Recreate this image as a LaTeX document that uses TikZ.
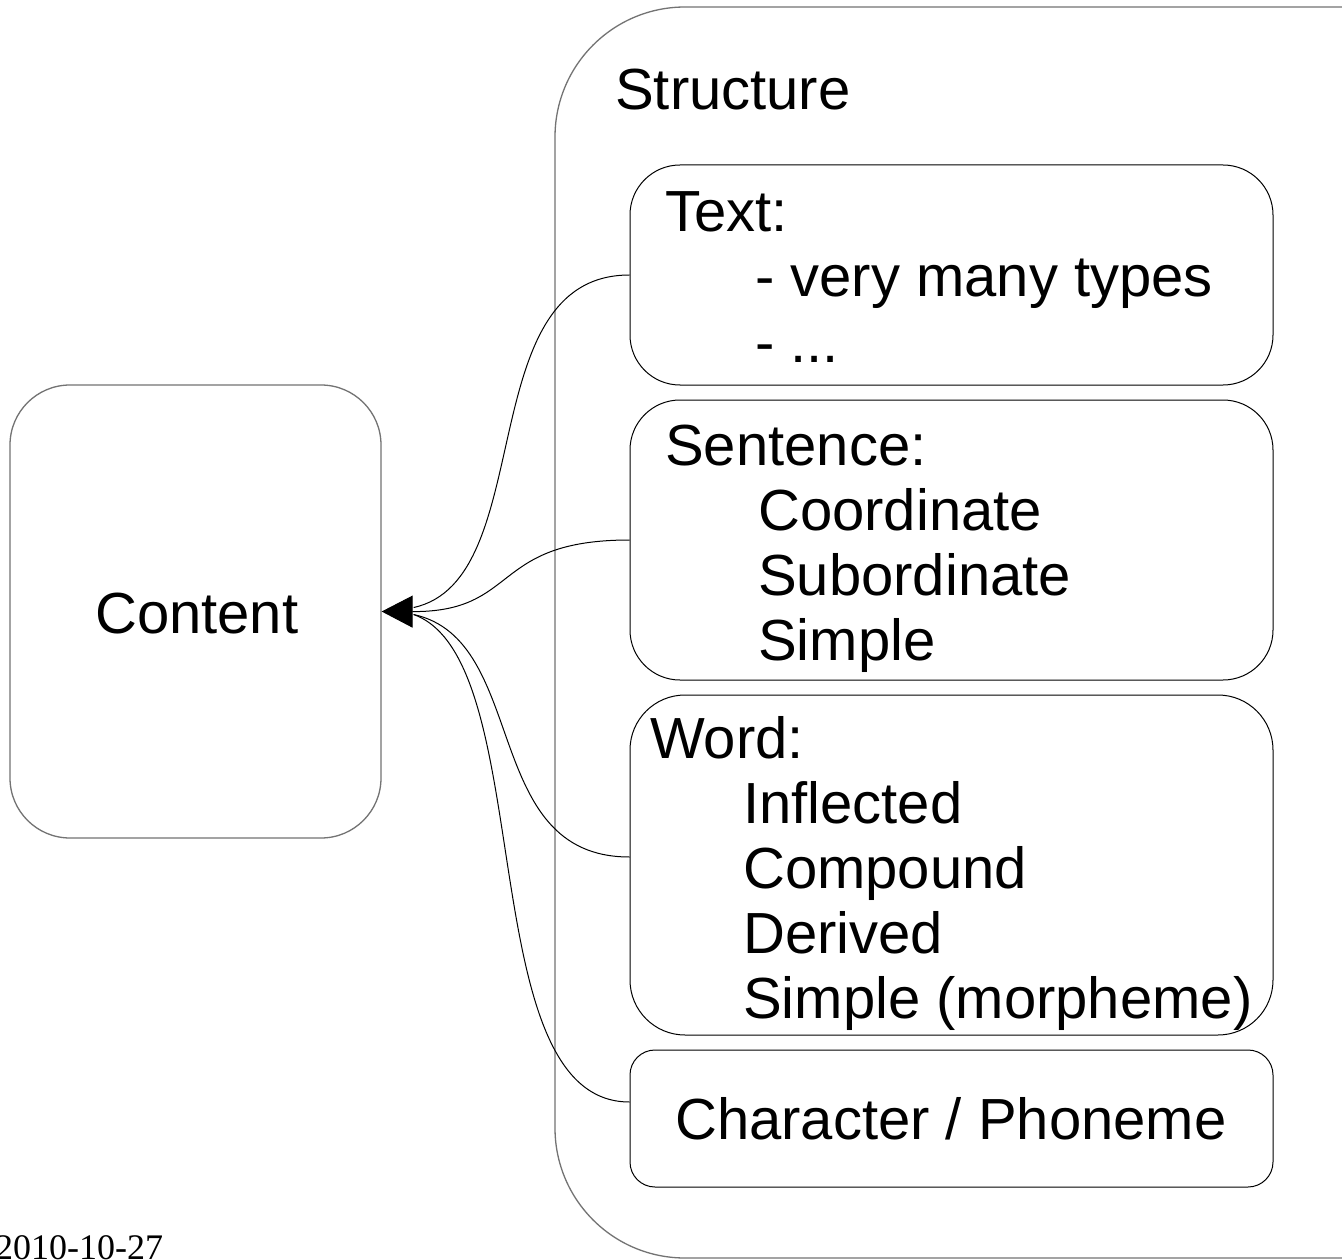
\documentclass[tikz,border=0pt]{standalone}
\usepackage{fontspec}
\usetikzlibrary{arrows.meta}
\setmainfont{Liberation Sans}
\newfontfamily\datefont{Liberation Serif}
\begin{document}
\begin{tikzpicture}[x=1pt,y=-1pt,
  outerbox/.style={draw=black!55,line width=1.3pt,inner sep=0pt},
  innerbox/.style={draw=black,line width=1pt,inner sep=0pt,minimum width=643pt},
  lbl/.style={anchor=base west,inner sep=0pt,font=\fontsize{58}{70}\selectfont},
  conn/.style={draw=black,line width=1pt}]
\clip (0,0) rectangle (1342,1260);
\fill[white] (0,0) rectangle (1342,1260);
% boxes
\node[outerbox,rounded corners=60pt,minimum width=371pt,minimum height=453pt] (content) at (195.5,611.5) {};
\node[outerbox,rounded corners=130pt,minimum width=925pt,minimum height=1251pt] (structure) at (1017.5,632.5) {};
\node[innerbox,rounded corners=50pt,minimum height=220pt] (textbox) at (951.5,275) {};
\node[innerbox,rounded corners=50pt,minimum height=280pt] (sentbox) at (951.5,540) {};
\node[innerbox,rounded corners=55pt,minimum height=340pt] (wordbox) at (951.5,865) {};
\node[innerbox,rounded corners=25pt,minimum height=137pt] (charbox) at (951.5,1118.5) {};
% labels
\node[lbl] (lcontent) at (95,633) {Content};
\node[lbl] (lstructure) at (615,110) {Structure};
\node[lbl] (ltext) at (665,232) {Text:};
\node[lbl] (ltexta) at (755,297) {- very many types};
\node[lbl] (ltextb) at (755,362) {- ...};
\node[lbl] (lsent) at (665,465) {Sentence:};
\node[lbl] (lsenta) at (758,530) {Coordinate};
\node[lbl] (lsentb) at (758,595) {Subordinate};
\node[lbl] (lsentc) at (758,660) {Simple};
\node[lbl] (lword) at (650,758) {Word:};
\node[lbl] (lworda) at (743,823) {Inflected};
\node[lbl] (lwordb) at (743,888) {Compound};
\node[lbl] (lwordc) at (743,953) {Derived};
\node[lbl] (lwordd) at (743,1018) {Simple (morpheme)};
\node[lbl] (lchar) at (675,1139) {Character / Phoneme};
\node[anchor=base west,inner sep=0pt,font=\datefont\fontsize{36}{40}\selectfont] (date) at (-5,1259) {2010-10-27};
% connectors
\draw[conn] (textbox.west) .. controls (470,275) and (540,580) .. ([xshift=32pt,yshift=4pt]content.east);
\draw[conn] ([yshift=8pt]wordbox.west) .. controls (480,857) and (530,640) .. ([xshift=32pt,yshift=-3pt]content.east);
\draw[conn] ([yshift=16.5pt]charbox.west) .. controls (470,1102) and (540,660) .. ([xshift=32pt,yshift=-3pt]content.east);
\draw[conn,-{Triangle[length=31pt,width=32pt]}] (sentbox.west) .. controls (490,540) and (520,612) .. (content.east);
\end{tikzpicture}
\end{document}
